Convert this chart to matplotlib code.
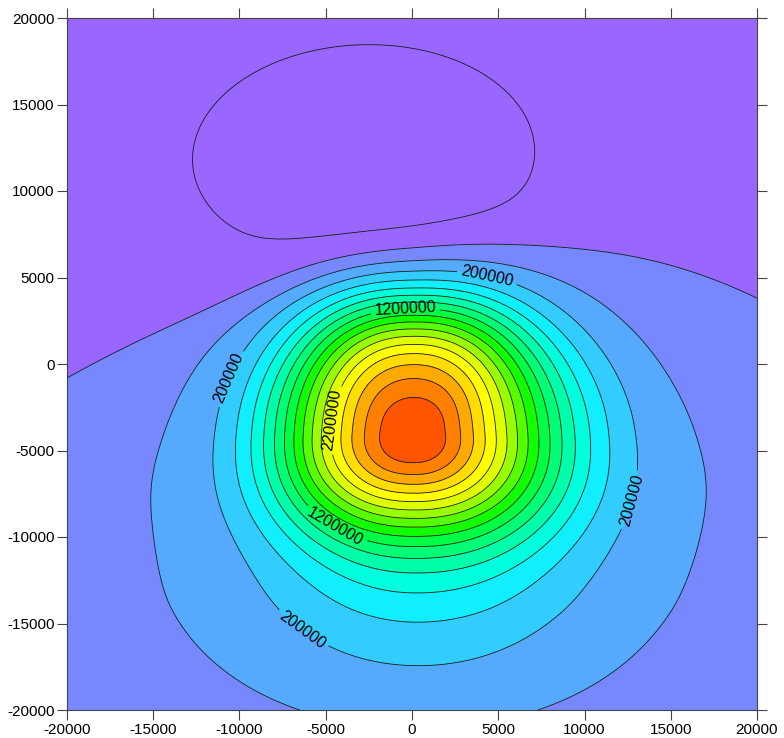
import numpy as np
import matplotlib

matplotlib.use("Agg")
import matplotlib.pyplot as plt

plt.rcParams["font.family"] = ["Liberation Sans", "DejaVu Sans"]
plt.rcParams["axes.unicode_minus"] = False
plt.rcParams["contour.negative_linestyle"] = "solid"

# --------------------------------------------------------------------------- #
# Contour levels / colours (one colour per filled band, lowest band first)
# --------------------------------------------------------------------------- #
levels = list(range(-400000, 3200000, 200000))
labelled_levels = [200000, 1200000, 2200000]
band_colors = [
    "#9966FF", "#9966FF", "#7788FF", "#55AAFF", "#33CCFF", "#11EEFF",
    "#00FFDD", "#00FFAA", "#00FF77", "#00FF44", "#11FF00", "#55FF00",
    "#99FF00", "#DDFF00", "#FFFF00", "#FFDD00", "#FFAA00", "#FF8000",
    "#FF5500",
]

# --------------------------------------------------------------------------- #
# Field
# --------------------------------------------------------------------------- #
# main positive anomaly (west, east, north, south)
peak_xy = [100, -4000]
peak_amp = 2.85e6
peak_scale = [5900, 6000, 6350, 4600]
peak_power = [2.5, 2.2, 3.5, 2.2]
peak_shape = 2.3

# small cap on top of the anomaly
cap_amp = 2.5e5
cap_sigma = 2000

# broad positive skirt (west, east, north, south)
skirt_xy = [700, -8000]
skirt_amp = 2.5e5
skirt_sigma = [11000, 11000, 5500, 6500]

# southern bulge of the 400000-600000 band (west, east, north, south)
bulge_xy = [300, -14500]
bulge_amp = 2.6e5
bulge_sigma = [7000, 7000, 3000, 4000]

# northern negative plateau: level south / north of an edge line
base_levels = [-1.0e5, -3.0e5]
edge_x = [-20, -15, -10, -5.7, 0, 8, 14, 20]          # km
edge_y = [-1.3, 2.0, 3.8, 5.0, 6.2, 7.3, 6.0, 3.66]   # km
edge_width = 700

# closed low north of the anomaly
low_xy = [-2800, 12000]
low_amp = -2.3e5
low_sigma = [7700, 5000]
low_tilt = 2.0

label_at = [
    (4350, 5000), (-10400, -900), (12800, -7900), (-6600, -15700),
    (-400, 3600), (-4200, -9000), (-4900, -3200),
]


def side(d, neg, pos):
    return np.where(d < 0, neg, pos)


def lobe(X, Y, xy, amp, sig):
    dx = X - xy[0]
    dy = Y - xy[1]
    sx = side(dx, sig[0], sig[1])
    sy = side(dy, sig[3], sig[2])
    return amp * np.exp(-0.5 * ((dx / sx) ** 2 + (dy / sy) ** 2))


def field(X, Y):
    dx = X - peak_xy[0]
    dy = Y - peak_xy[1]
    sx = side(dx, peak_scale[0], peak_scale[1])
    sy = side(dy, peak_scale[3], peak_scale[2])
    rho = (np.abs(dx / sx) ** peak_shape + np.abs(dy / sy) ** peak_shape) ** (1 / peak_shape)
    d2 = np.maximum(dx ** 2 + dy ** 2, 1e-6)
    pw = (dx ** 2 / d2) * side(dx, peak_power[0], peak_power[1]) \
        + (dy ** 2 / d2) * side(dy, peak_power[3], peak_power[2])
    pw = np.maximum(pw, 1.5)
    peak = peak_amp * np.exp(-0.5 * rho ** pw)
    cap = cap_amp * np.exp(-0.5 * d2 / cap_sigma ** 2)

    skirt = lobe(X, Y, skirt_xy, skirt_amp, skirt_sigma)
    bulge = lobe(X, Y, bulge_xy, bulge_amp, bulge_sigma)

    coef = np.polyfit(edge_x, edge_y, 3)
    edge = np.polyval(coef, X / 1000) * 1000
    base = base_levels[0] + (base_levels[1] - base_levels[0]) \
        / (1 + np.exp(-(Y - edge) / edge_width))

    t = np.radians(low_tilt)
    lx = X - low_xy[0]
    ly = Y - low_xy[1]
    u = lx * np.cos(t) + ly * np.sin(t)
    v = -lx * np.sin(t) + ly * np.cos(t)
    low = low_amp * np.exp(-0.5 * ((u / low_sigma[0]) ** 2 + (v / low_sigma[1]) ** 2))
    return peak + cap + skirt + bulge + base + low


xs = np.linspace(-20000, 20000, 401)
ys = np.linspace(-20000, 20000, 401)
X, Y = np.meshgrid(xs, ys)
Z = field(X, Y)

fig = plt.figure(figsize=(7.84, 7.38), dpi=100)
ax = fig.add_axes([67 / 784, 1 - 710 / 738, 690 / 784, 692 / 738])

fill_levels = [-5e6] + levels + [9e6]
ax.contourf(X, Y, Z, levels=fill_levels, colors=band_colors)
plain = [lv for lv in levels if lv not in labelled_levels]
ax.contour(X, Y, Z, levels=plain, colors="#1a1a1a", linewidths=0.6)
cs = ax.contour(X, Y, Z, levels=labelled_levels, colors="#1a1a1a", linewidths=0.6)
ax.clabel(cs, manual=label_at, inline=True, inline_spacing=4,
          fmt="%d", fontsize=11.5, colors="black")

ticks = list(range(-20000, 20001, 5000))
ax.set_xticks(ticks)
ax.set_yticks(ticks)
ax.set_xlim(-20000, 20000)
ax.set_ylim(-20000, 20000)
ax.tick_params(direction="out", length=7, width=0.8, color="#444444",
               labelsize=11, top=True, right=True, pad=2)
for sp in ax.spines.values():
    sp.set_color("#444444")
    sp.set_linewidth(0.8)

fig.savefig("out.png", dpi=100)
